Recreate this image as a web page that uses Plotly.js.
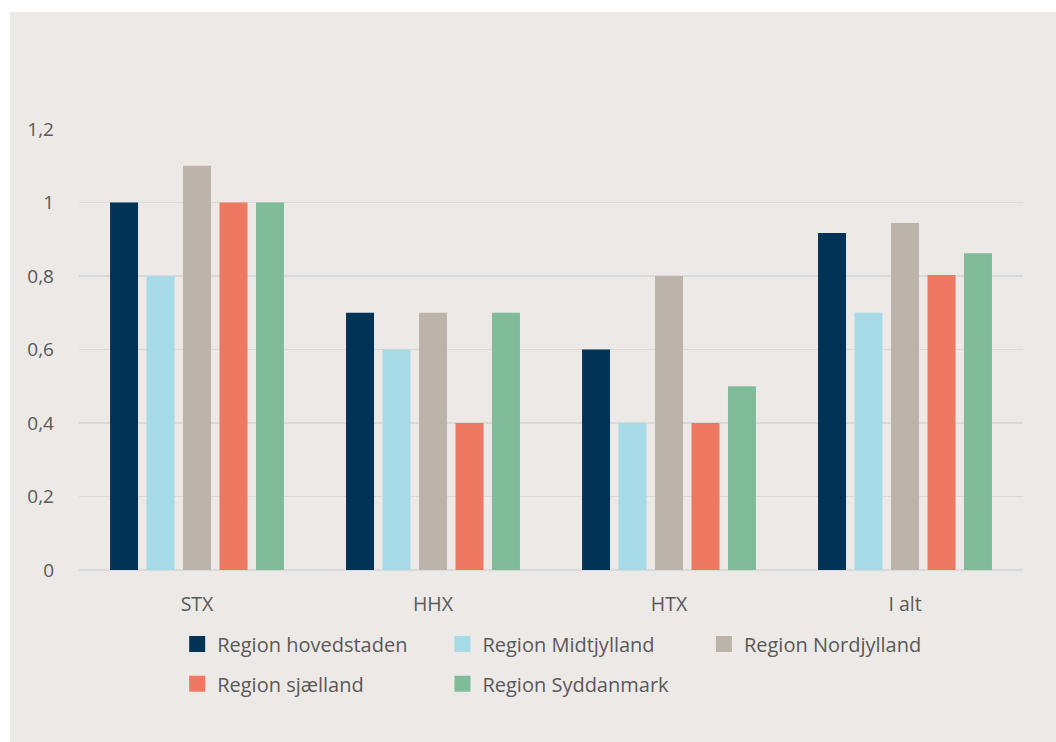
<!DOCTYPE html>
<html>
<head>
<meta charset="utf-8">
<script src="https://cdn.plot.ly/plotly-3.0.1.min.js"></script>
<style>
html,body{margin:0;padding:0;background:#ffffff;}
#chart{position:absolute;left:10px;top:12px;width:1046px;height:730px;}
</style>
</head>
<body>
<div id="chart"></div>
<script>
const categories = ["STX", "HHX", "HTX", "I alt"];
const seriesNames = ["Region hovedstaden", "Region Midtjylland", "Region Nordjylland", "Region sjælland", "Region Syddanmark"];
const hovedstaden = [1.0, 0.7, 0.6, 0.917];
const midtjylland = [0.8, 0.6, 0.4, 0.7];
const nordjylland = [1.1, 0.7, 0.8, 0.944];
const sjaelland = [1.0, 0.4, 0.4, 0.803];
const syddanmark = [1.0, 0.7, 0.5, 0.862];
const tickVals = [0, 0.2, 0.4, 0.6, 0.8, 1, 1.2];
const tickText = ["0", "0,2", "0,4", "0,6", "0,8", "1", "1,2"];

const seriesValues = [hovedstaden, midtjylland, nordjylland, sjaelland, syddanmark];
const colors = ["#003356", "#A6DAE6", "#BCB3AB", "#EF7862", "#80BB9A"];
const legendIds = ["legend", "legend2", "legend3", "legend4", "legend5"];
// legend slots (paper coordinates of the plot area)
const legendX = [0.104, 0.385, 0.662, 0.104, 0.385];
const legendY = [-0.168, -0.168, -0.168, -0.258, -0.258];

const traces = [];
seriesValues.forEach((vals, i) => {
  traces.push({
    type: "bar", x: categories, y: vals, name: seriesNames[i],
    marker: {color: colors[i]}, showlegend: false, hoverinfo: "x+y+name"
  });
});
seriesValues.forEach((vals, i) => {
  traces.push({
    type: "scatter", mode: "markers", x: [null], y: [null], name: seriesNames[i],
    marker: {color: colors[i], symbol: "square", size: 16},
    legend: legendIds[i], showlegend: true, hoverinfo: "skip"
  });
});

const layout = {
  width: 1046, height: 730,
  paper_bgcolor: "#EDE9E6", plot_bgcolor: "#EDE9E6",
  margin: {l: 69, r: 33, t: 117, b: 172},
  font: {family: "Open Sans, sans-serif", size: 18, color: "#595959"},
  barmode: "group", bargap: 0.227, bargroupgap: 0.233,
  xaxis: {
    type: "category", showgrid: false, zeroline: false, showline: false,
    ticks: "", tickfont: {size: 19.5, color: "#595959"}, ticklabelstandoff: 20
  },
  yaxis: {
    range: [0, 1.2], tickvals: tickVals, ticktext: tickText,
    showgrid: true, gridcolor: "#D9D9D9", gridwidth: 1.5,
    zeroline: true, zerolinecolor: "#D9D9D9", zerolinewidth: 2,
    showline: false, ticks: "", tickfont: {size: 19, color: "#595959"},
    ticklabelstandoff: 24
  },
  showlegend: true
};
legendIds.forEach((id, i) => {
  layout[id] = {
    orientation: "h", xanchor: "left", yanchor: "middle",
    x: legendX[i], y: legendY[i],
    font: {family: "Open Sans, sans-serif", size: 20, color: "#595959"},
    bgcolor: "rgba(0,0,0,0)", itemwidth: 30
  };
});
Plotly.newPlot("chart", traces, layout, {displayModeBar: false, staticPlot: true});
</script>
</body>
</html>
